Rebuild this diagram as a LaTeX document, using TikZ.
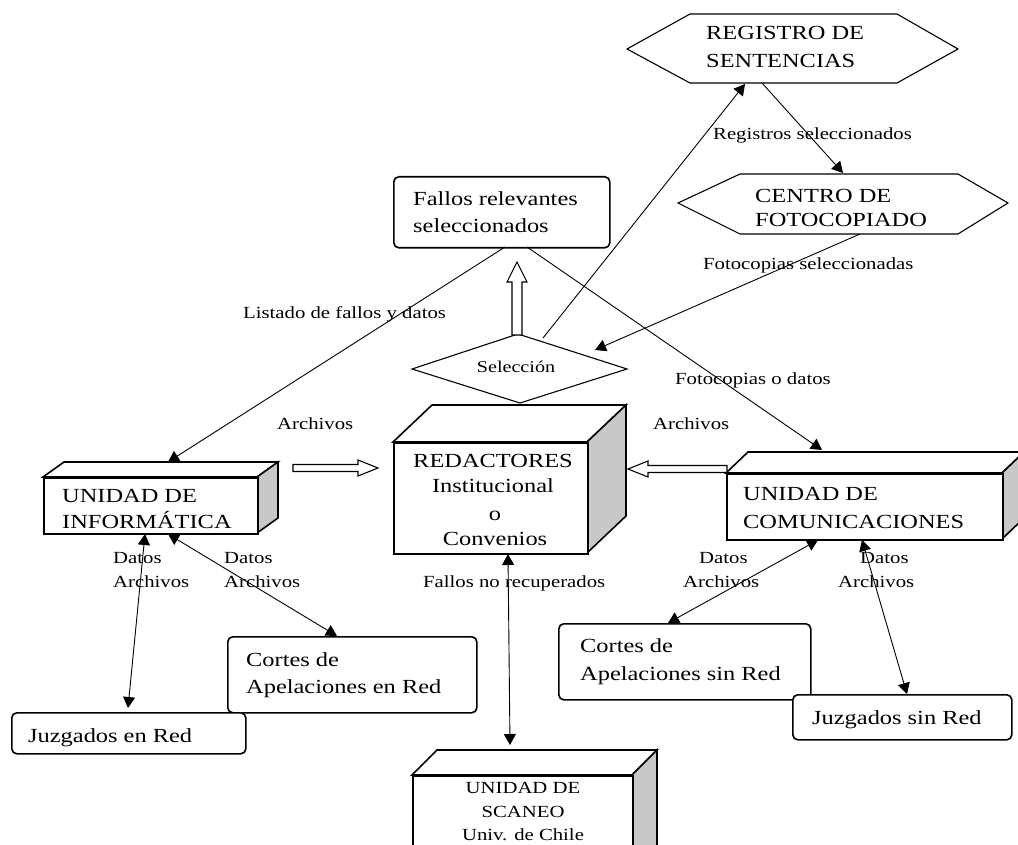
\documentclass[tikz,border=0pt]{standalone}
\usepackage{fontspec}
\setmainfont{Liberation Serif}[FakeStretch=1.22]
\usetikzlibrary{arrows.meta,calc}
\definecolor{facegray}{RGB}{200,200,200}
\tikzset{
 boxline/.style={line width=1.6pt, line join=miter},
 rbox/.style={draw, line width=1.6pt, rounded corners=5pt, inner sep=0pt, fill=white},
 sbox/.style={draw, line width=1.6pt, inner sep=0pt},
 hexa/.style={draw, line width=1.1pt, fill=white},
 conn/.style={line width=0.9pt, -{Triangle[length=11pt,width=12pt]}},
 bconn/.style={line width=0.9pt, {Triangle[length=11pt,width=12pt]}-{Triangle[length=11pt,width=12pt]}},
 hollow/.style={draw, line width=1.1pt, fill=white, line join=miter},
 big/.style={font=\fontsize{20}{24}\selectfont, inner sep=0pt, anchor=base west},
 bigc/.style={font=\fontsize{20}{24}\selectfont, inner sep=0pt, anchor=base},
 mid/.style={font=\fontsize{17}{20}\selectfont, inner sep=0pt, anchor=base},
 lbl/.style={font=\fontsize{17}{20}\selectfont, inner sep=0pt, anchor=base west},
}
\newcommand{\cuboid}[7]{%
  \draw[boxline, fill=white] (#2,#3) -- ++(#6,-#7) -- (#4+#6,#3-#7) -- (#4,#3) -- cycle;
  \draw[boxline, fill=facegray] (#4,#3) -- ++(#6,-#7) -- (#4+#6,#5-#7) -- (#4,#5) -- cycle;
  \node[sbox, fill=white, minimum width={#4-#2}, minimum height={#5-#3}, anchor=north west] (#1) at (#2,#3) {};
}
\newcommand{\hollowarr}[5]{%
  \coordinate (hbtmp) at ($(#2)!#5!(#1)$);
  \draw[hollow] ($(#1)!#3!90:(#2)$) -- ($(hbtmp)!#3!90:(#2)$) -- ($(hbtmp)!#4!90:(#2)$) -- (#2)
     -- ($(hbtmp)!#4!-90:(#2)$) -- ($(hbtmp)!#3!-90:(#2)$) -- ($(#1)!#3!-90:(#2)$) -- cycle;
}
\begin{document}
\begin{tikzpicture}[x=1pt,y=-1pt]
\useasboundingbox (0,0) rectangle (1018,845);
\fill[white] (0,0) rectangle (1018,845);
\clip (0,0) rectangle (1018,845);

% hexagons
\draw[hexa] (627,49) -- (690,14) -- (897,14) -- (958,49) -- (897,83) -- (690,83) -- cycle;
\coordinate (reg) at (792,49);
\draw[hexa] (678,203) -- (740,174) -- (958,174) -- (1008,203) -- (958,234) -- (740,234) -- cycle;
\coordinate (cen) at (843,204);

% diamond
\draw[hexa] (412,369) -- (518,334) -- (627,369) -- (520,403) -- cycle;
\coordinate (sel) at (519,368);

% rounded boxes
\node[rbox, minimum width=216, minimum height=71, anchor=north west] (fallos) at (393,176) {};
\node[rbox, minimum width=249, minimum height=76, anchor=north west] (cortesred) at (227,636) {};
\node[rbox, minimum width=234, minimum height=41, anchor=north west] (juzred) at (11,712) {};
\node[rbox, minimum width=252, minimum height=76, anchor=north west] (cortessin) at (558,623) {};
\node[rbox, minimum width=219, minimum height=45, anchor=north west] (juzsin) at (792,694) {};

% 3D boxes
\cuboid{inf}{43}{477}{257}{533}{21}{15}
\cuboid{red}{393}{442}{587}{553}{39}{37}
\cuboid{com}{726}{473}{1002}{539}{22}{21}
\cuboid{scan}{412}{775}{632}{880}{25}{25}

% connector ports
\coordinate (fallosA) at (505,247);
\coordinate (fallosB) at (527,247);
\coordinate (infT) at (168,462);
\coordinate (comT) at (822,450);
\coordinate (selNE) at (543,338);
\coordinate (regS) at (745,84);
\coordinate (regS2) at (762,83);
\coordinate (cenN) at (843,173);
\coordinate (cenS) at (860,234);
\coordinate (selE) at (595,350);
\coordinate (infB1) at (145,534);
\coordinate (infB2) at (168,534);
\coordinate (juzredT) at (128,708);
\coordinate (cortesredT) at (337,636);
\coordinate (comB1) at (818,540);
\coordinate (comB2) at (862,540);
\coordinate (cortessinT) at (668,623);
\coordinate (juzsinT) at (907,694);
\coordinate (redB) at (508,554);
\coordinate (scanT) at (510,745);

% connectors
\draw[conn] (fallosA) -- (infT);
\draw[conn] (fallosB) -- (comT);
\draw[conn] (selNE) -- (regS);
\draw[conn] (regS2) -- (cenN);
\draw[conn] (cenS) -- (selE);
\draw[bconn] (infB1) -- (juzredT);
\draw[bconn] (infB2) -- (cortesredT);
\draw[bconn] (comB1) -- (cortessinT);
\draw[bconn] (comB2) -- (juzsinT);
\draw[bconn] (redB) -- (scanT);

% hollow arrows
\coordinate (hA1) at (517,335); \coordinate (hA2) at (517,262);
\hollowarr{hA1}{hA2}{5pt}{10pt}{20pt}
\coordinate (hB1) at (293,468); \coordinate (hB2) at (378,468);
\hollowarr{hB1}{hB2}{3.5pt}{8pt}{20pt}
\coordinate (hC1) at (727,469); \coordinate (hC2) at (628,469);
\hollowarr{hC1}{hC2}{3.5pt}{8pt}{20pt}

% texts in shapes
\node[big] (t1) at (706,40) {REGISTRO DE};
\node[big] (t2) at (706,68) {SENTENCIAS};
\node[big] (t3) at (755,203) {CENTRO DE};
\node[big] (t4) at (755,227) {FOTOCOPIADO};
\node[big] (t5) at (413,206) {Fallos relevantes};
\node[big] (t6) at (413,233) {seleccionados};
\node[mid, font=\fontsize{16.5}{20}\selectfont] (t7) at (516,372) {Selección};
\node[big] (t8) at (62,502) {UNIDAD DE};
\node[big] (t9) at (62,528) {INFORMÁTICA};
\node[bigc] (t10) at (493,467) {REDACTORES};
\node[bigc] (t11) at (493,492) {Institucional};
\node[bigc] (t12) at (495,520) {o};
\node[bigc] (t13) at (495,545) {Convenios};
\node[big] (t14) at (743,500) {UNIDAD DE};
\node[big] (t15) at (743,528) {COMUNICACIONES};
\node[big] (t16) at (246,666) {Cortes de};
\node[big] (t17) at (246,693) {Apelaciones en Red};
\node[big] (t18) at (28,742) {Juzgados en Red};
\node[big] (t19) at (580,652) {Cortes de};
\node[big] (t20) at (580,680) {Apelaciones sin Red};
\node[big] (t21) at (812,724) {Juzgados sin Red};
\node[mid] (t22) at (523,793) {UNIDAD DE};
\node[mid] (t23) at (523,817) {SCANEO};
\node[mid] (t24) at (523,840) {Univ. de Chile};

% connector labels
\node[lbl] (l1) at (713,140) {Registros seleccionados};
\node[lbl] (l2) at (703,270) {Fotocopias seleccionadas};
\node[lbl] (l3) at (243,318) {Listado de fallos y datos};
\node[lbl] (l4) at (675,384) {Fotocopias o datos};
\node[lbl] (l5) at (277,429) {Archivos};
\node[lbl] (l6) at (653,429) {Archivos};
\node[lbl] (l7) at (423,587) {Fallos no recuperados};
\node[lbl] (l8) at (113,563) {Datos};
\node[lbl] (l9) at (113,587) {Archivos};
\node[lbl] (l10) at (224,563) {Datos};
\node[lbl] (l11) at (224,587) {Archivos};
\node[lbl] (l12) at (699,563) {Datos};
\node[lbl] (l13) at (683,587) {Archivos};
\node[lbl] (l14) at (860,563) {Datos};
\node[lbl] (l15) at (838,587) {Archivos};
\end{tikzpicture}
\end{document}
